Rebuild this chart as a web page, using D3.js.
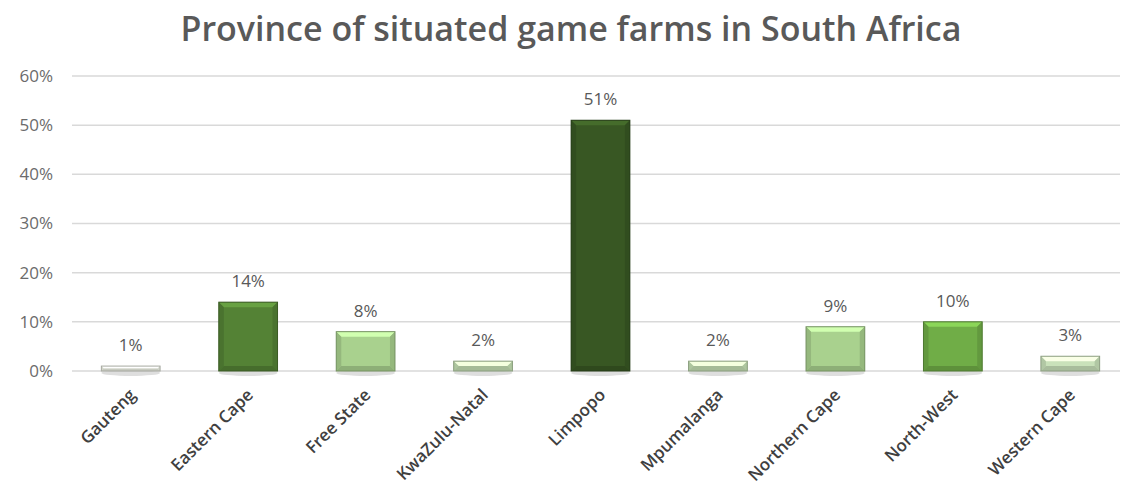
<!DOCTYPE html>
<html>
<head>
<meta charset="utf-8">
<script src="https://cdn.jsdelivr.net/npm/d3@7"></script>
<style>
  body { margin: 0; background: #fff; }
  svg { display: block; }
</style>
</head>
<body>
<script>
// chart data
var provinces = ["Gauteng", "Eastern Cape", "Free State", "KwaZulu-Natal", "Limpopo",
                 "Mpumalanga", "Northern Cape", "North-West", "Western Cape"];
var shares = [1, 14, 8, 2, 51, 2, 9, 10, 3];
var barColors = ["#eef2e6", "#548235", "#a9d18e", "#c5e0b4", "#385723",
                 "#c5e0b4", "#a9d18e", "#70ad47", "#c9e1ba"];
var yTicks = [0, 10, 20, 30, 40, 50, 60];
var title = "Province of situated game farms in South Africa";

var W = 1128, H = 486;
var svg = d3.select("body").append("svg")
  .attr("width", W)
  .attr("height", H);

var x = d3.scaleBand()
  .domain(provinces)
  .range([72, 1129])
  .paddingInner(0.5)
  .paddingOuter(0.25);

var y = d3.scaleLinear()
  .domain([0, 60])
  .range([371, 76]);

// title
svg.append("text")
  .attr("x", 571)
  .attr("y", 41)
  .attr("text-anchor", "middle")
  .style("font-family", "'Open Sans', sans-serif")
  .style("font-weight", "600")
  .style("font-size", "34px")
  .style("fill", "#595959")
  .text(title);

// gridlines
svg.append("g")
  .selectAll("line")
  .data(yTicks)
  .enter()
  .append("line")
  .attr("x1", 72)
  .attr("x2", 1120)
  .attr("y1", function(d) { return y(d); })
  .attr("y2", function(d) { return y(d); })
  .style("stroke", "#d9d9d9")
  .style("stroke-width", 1.5);

// y axis labels
var yAxis = svg.append("g")
  .attr("transform", "translate(60,0)")
  .call(d3.axisLeft(y).tickValues(yTicks).tickSize(0).tickPadding(7)
    .tickFormat(function(d) { return d + "%"; }));
yAxis.select(".domain").remove();
yAxis.selectAll("text")
  .style("font-family", "'Open Sans', sans-serif")
  .style("font-size", "17px")
  .style("fill", "#6b6b6b");

// shadows under bars
svg.append("g")
  .selectAll("ellipse")
  .data(provinces)
  .enter()
  .append("ellipse")
  .attr("cx", function(d) { return x(d) + x.bandwidth() / 2; })
  .attr("cy", y(0) + 2)
  .attr("rx", x.bandwidth() / 2)
  .attr("ry", 3)
  .style("fill", "#d0d0d0")
  .style("opacity", 0.7);

// bars with a bevelled look
var bars = svg.append("g")
  .selectAll("g")
  .data(provinces)
  .enter()
  .append("g");

function bevel(d, i) {
  var x0 = x(d), x1 = x(d) + x.bandwidth();
  var y0 = y(shares[i]), y1 = y(0);
  var b = Math.min(5, (y1 - y0) / 2);
  return { x0: x0, x1: x1, y0: y0, y1: y1, b: b };
}

bars.append("rect")
  .attr("x", function(d) { return x(d); })
  .attr("y", function(d, i) { return y(shares[i]); })
  .attr("width", x.bandwidth())
  .attr("height", function(d, i) { return y(0) - y(shares[i]); })
  .style("fill", function(d, i) { return barColors[i]; });

// top highlight
bars.append("path")
  .attr("d", function(d, i) {
    var p = bevel(d, i);
    return "M" + p.x0 + "," + p.y0 + "L" + p.x1 + "," + p.y0 +
      "L" + (p.x1 - p.b) + "," + (p.y0 + p.b) + "L" + (p.x0 + p.b) + "," + (p.y0 + p.b) + "Z";
  })
  .style("fill", function(d, i) { return d3.color(barColors[i]).brighter(0.6); });

// side shading
bars.append("path")
  .attr("d", function(d, i) {
    var p = bevel(d, i);
    return "M" + p.x0 + "," + p.y0 + "L" + (p.x0 + p.b) + "," + (p.y0 + p.b) +
      "L" + (p.x0 + p.b) + "," + (p.y1 - p.b) + "L" + p.x0 + "," + p.y1 + "Z" +
      "M" + p.x1 + "," + p.y0 + "L" + (p.x1 - p.b) + "," + (p.y0 + p.b) +
      "L" + (p.x1 - p.b) + "," + (p.y1 - p.b) + "L" + p.x1 + "," + p.y1 + "Z";
  })
  .style("fill", function(d, i) { return d3.color(barColors[i]).darker(0.35); });

// bottom shading
bars.append("path")
  .attr("d", function(d, i) {
    var p = bevel(d, i);
    return "M" + p.x0 + "," + p.y1 + "L" + p.x1 + "," + p.y1 +
      "L" + (p.x1 - p.b) + "," + (p.y1 - p.b) + "L" + (p.x0 + p.b) + "," + (p.y1 - p.b) + "Z";
  })
  .style("fill", function(d, i) { return d3.color(barColors[i]).darker(0.5); });

bars.append("rect")
  .attr("x", function(d) { return x(d); })
  .attr("y", function(d, i) { return y(shares[i]); })
  .attr("width", x.bandwidth())
  .attr("height", function(d, i) { return y(0) - y(shares[i]); })
  .style("fill", "none")
  .style("stroke", function(d, i) { return d3.color(barColors[i]).darker(1); })
  .style("stroke-width", 1);

// value labels
svg.append("g")
  .selectAll("text")
  .data(provinces)
  .enter()
  .append("text")
  .attr("x", function(d) { return x(d) + x.bandwidth() / 2; })
  .attr("y", function(d, i) { return y(shares[i]) - 15; })
  .attr("text-anchor", "middle")
  .style("font-family", "'Open Sans', sans-serif")
  .style("font-size", "17px")
  .style("fill", "#595959")
  .text(function(d, i) { return shares[i] + "%"; });

// category labels
svg.append("g")
  .selectAll("text")
  .data(provinces)
  .enter()
  .append("text")
  .attr("transform", function(d) {
    return "translate(" + (x(d) + x.bandwidth() / 2 + 6) + ",396) rotate(-45)";
  })
  .attr("text-anchor", "end")
  .style("font-family", "'Open Sans', sans-serif")
  .style("font-weight", "600")
  .style("font-size", "17px")
  .style("fill", "#404040")
  .text(function(d) { return d; });
</script>
</body>
</html>
